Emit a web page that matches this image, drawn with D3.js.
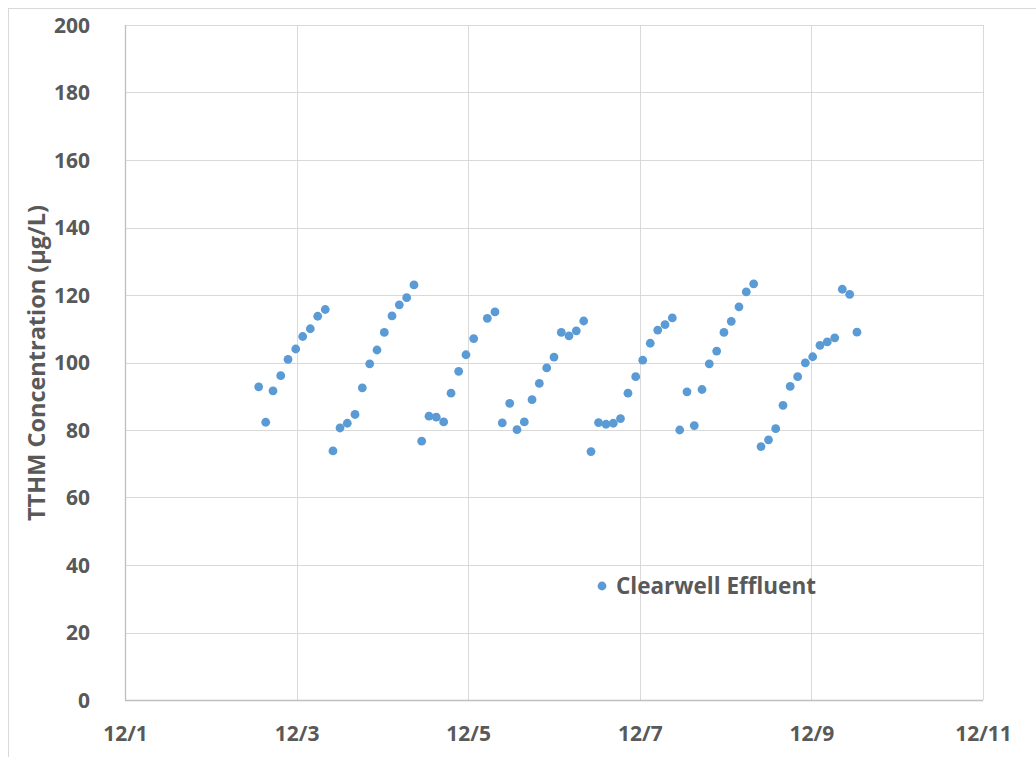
<!DOCTYPE html>
<html>
<head>
<meta charset="utf-8">
<script src="https://cdn.jsdelivr.net/npm/d3@7/dist/d3.min.js"></script>
<style>
  html, body { margin: 0; padding: 0; background: #fff; }
  svg { display: block; }
  text { font-family: "Open Sans", "Liberation Sans", sans-serif; font-weight: 700; fill: #595959; }
</style>
</head>
<body>
<svg id="chart" width="1036" height="757"></svg>
<script>
// Day of month (fractional) for each sample, December
const sampleDay = [
  2.558, 2.640, 2.725, 2.815, 2.900, 2.990, 3.071, 3.160, 3.246, 3.334,
  3.424, 3.506, 3.591, 3.681, 3.766, 3.852, 3.937, 4.022, 4.112, 4.197, 4.283, 4.368,
  4.458, 4.543, 4.628, 4.714, 4.800, 4.889, 4.974, 5.064, 5.223, 5.312,
  5.397, 5.484, 5.569, 5.654, 5.744, 5.829, 5.915, 6.000, 6.085, 6.175, 6.260, 6.346,
  6.431, 6.519, 6.606, 6.691, 6.775, 6.862, 6.952, 7.034, 7.122, 7.209, 7.294, 7.379,
  7.465, 7.550, 7.635, 7.725, 7.810, 7.896, 7.981, 8.066, 8.156, 8.241, 8.327,
  8.413, 8.500, 8.584, 8.669, 8.753, 8.840, 8.929, 9.015, 9.100, 9.185, 9.272, 9.360, 9.446, 9.531
];
// TTHM concentration, Clearwell Effluent (µg/L)
const clearwellEffluent = [
  92.8, 82.3, 91.6, 96.1, 100.9, 104.0, 107.7, 110.0, 113.7, 115.7,
  73.8, 80.6, 82.0, 84.6, 92.5, 99.6, 103.7, 108.9, 113.8, 117.1, 119.2, 123.0,
  76.7, 84.1, 83.8, 82.4, 90.9, 97.4, 102.3, 107.1, 113.1, 115.0,
  82.1, 87.9, 80.1, 82.4, 89.0, 93.8, 98.4, 101.6, 108.9, 107.9, 109.4, 112.3,
  73.6, 82.2, 81.7, 82.0, 83.4, 90.9, 95.8, 100.7, 105.7, 109.6, 111.2, 113.2,
  80.0, 91.3, 81.3, 92.0, 99.6, 103.4, 108.9, 112.2, 116.5, 120.9, 123.3,
  75.1, 77.1, 80.4, 87.3, 92.9, 95.8, 99.9, 101.7, 105.1, 106.1, 107.3, 121.7, 120.2, 109.0
];
const xTickDays = [1, 3, 5, 7, 9, 11];
const xTickLabels = ["12/1", "12/3", "12/5", "12/7", "12/9", "12/11"];
const yTicks = [0, 20, 40, 60, 80, 100, 120, 140, 160, 180, 200];
const seriesName = "Clearwell Effluent";
const yTitle = "TTHM Concentration (µg/L)";

const svg = d3.select("#chart");
const W = 1036, H = 757;
const plot = { left: 125, right: 983, top: 25, bottom: 700 };

// outer chart border (only left/top visible in frame)
svg.append("rect")
  .attr("x", 8.5).attr("y", 8.5)
  .attr("width", W + 10).attr("height", H + 10)
  .attr("fill", "none").attr("stroke", "#d9d9d9").attr("stroke-width", 1);

const x = d3.scaleLinear().domain([1, 11]).range([plot.left, plot.right]);
const y = d3.scaleLinear().domain([0, 200]).range([plot.bottom, plot.top]);

// gridlines
const grid = svg.append("g");
grid.selectAll(".hg").data(yTicks.filter(d => d > 0)).join("line")
  .attr("x1", plot.left).attr("x2", plot.right)
  .attr("y1", d => Math.round(y(d)) + 0.5).attr("y2", d => Math.round(y(d)) + 0.5)
  .attr("stroke", "#d9d9d9").attr("stroke-width", 1);
grid.selectAll(".vg").data(xTickDays.filter(d => d > 1)).join("line")
  .attr("x1", d => Math.round(x(d)) + 0.5).attr("x2", d => Math.round(x(d)) + 0.5)
  .attr("y1", plot.top).attr("y2", plot.bottom)
  .attr("stroke", "#d9d9d9").attr("stroke-width", 1);

// axes lines
svg.append("line")
  .attr("x1", plot.left + 0.5).attr("x2", plot.left + 0.5)
  .attr("y1", plot.top).attr("y2", plot.bottom)
  .attr("stroke", "#bfbfbf").attr("stroke-width", 1.3);
svg.append("line")
  .attr("x1", plot.left).attr("x2", plot.right)
  .attr("y1", plot.bottom + 0.5).attr("y2", plot.bottom + 0.5)
  .attr("stroke", "#bfbfbf").attr("stroke-width", 1.3);

// y tick labels
const yAxis = d3.axisLeft(y).tickValues(yTicks).tickSize(0).tickPadding(0);
const gy = svg.append("g").attr("transform", `translate(90,0)`).call(yAxis);
gy.select(".domain").remove();
gy.selectAll("text")
  .attr("font-size", 21).attr("font-family", null).attr("fill", "#595959")
  .attr("dy", "0.35em").attr("x", 0);

// x tick labels
const xAxis = d3.axisBottom(x).tickValues(xTickDays)
  .tickFormat((d, i) => xTickLabels[i]).tickSize(0).tickPadding(0);
const gx = svg.append("g").attr("transform", `translate(0,734)`).call(xAxis);
gx.select(".domain").remove();
gx.selectAll("text")
  .attr("font-size", 21).attr("font-family", null).attr("fill", "#595959")
  .attr("dy", "0.35em").attr("y", 0);

// y axis title
svg.append("text")
  .attr("transform", `translate(45,363) rotate(-90)`)
  .attr("text-anchor", "middle")
  .attr("font-size", 23.5)
  .text(yTitle);

// points
const pts = sampleDay.map((d, i) => ({ day: d, v: clearwellEffluent[i] }));
svg.append("g").selectAll("circle").data(pts).join("circle")
  .attr("cx", d => x(d.day)).attr("cy", d => y(d.v))
  .attr("r", 4.4).attr("fill", "#5B9BD5");

// legend
svg.append("circle").attr("cx", 602).attr("cy", 586).attr("r", 4.4).attr("fill", "#5B9BD5");
svg.append("text").attr("x", 616).attr("y", 586).attr("dy", "0.35em")
  .attr("font-size", 22.5).text(seriesName);
</script>
</body>
</html>
